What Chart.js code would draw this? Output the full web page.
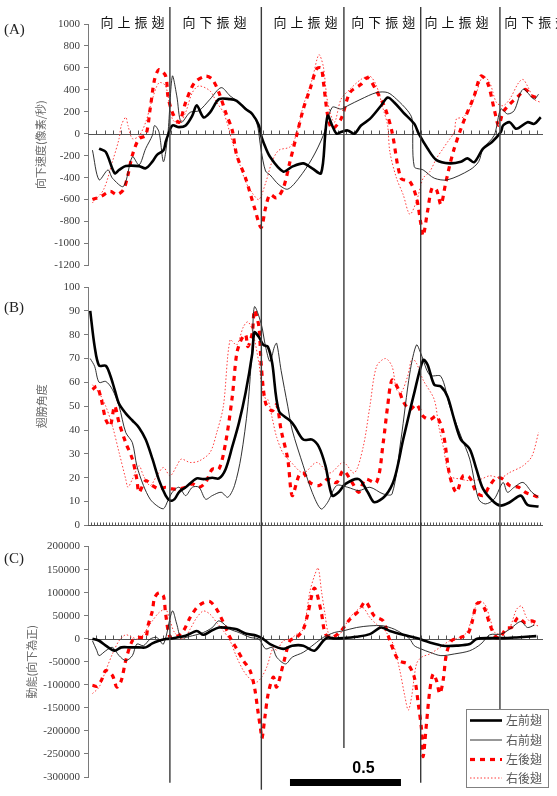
<!DOCTYPE html>
<html>
<head>
<meta charset="utf-8">
<script src="https://cdn.jsdelivr.net/npm/chart.js@4.4.0/dist/chart.umd.min.js"></script>
<style>
  html, body { margin: 0; padding: 0; background: #fff; }
  #page { position: relative; width: 557px; height: 796px; overflow: hidden; background: #fff; }
  #page canvas { position: absolute; left: 0; }
</style>
</head>
<body>
<div id="page">
  <canvas id="chartA" width="557" height="276" style="top:0px"></canvas>
  <canvas id="chartB" width="557" height="260" style="top:276px"></canvas>
  <canvas id="chartC" width="557" height="260" style="top:536px"></canvas>
</div>
<script>
// time in seconds, [t, value]
const seriesNames = ["左前翅", "右前翅", "左後翅", "右後翅"];
const phaseTimes = [0.369, 0.781, 1.153, 1.499, 1.856]; // stroke transitions
const phaseLabels = ["向上振翅", "向下振翅", "向上振翅", "向下振翅", "向上振翅", "向下振翅"];
const phaseLabelTimes = [0.2, 0.57, 0.98, 1.33, 1.66, 2.02];
const markerEndsC = [-312500, -327600, -237000, -312500, -155000]; // where the lines stop, in panel C units
const scaleBarStart = 0.91;
const scaleBarLength = 0.5;

// (A) 向下速度 (像素/秒)
const velLeftFore = [[0.05,-135],[0.08,-165],[0.12,-360],[0.14,-330],[0.17,-295],[0.23,-295],[0.26,-315],[0.29,-255],[0.31,-195],[0.34,-150],[0.35,-75],[0.36,-15],[0.38,75],[0.41,60],[0.44,75],[0.47,165],[0.49,260],[0.52,150],[0.55,195],[0.59,315],[0.64,315],[0.67,300],[0.71,225],[0.74,180],[0.77,75],[0.78,-15],[0.79,-75],[0.82,-210],[0.88,-345],[0.92,-300],[0.97,-270],[1.01,-315],[1.05,-360],[1.07,18],[1.08,165],[1.10,75],[1.12,0],[1.14,15],[1.17,30],[1.20,0],[1.23,75],[1.27,135],[1.32,255],[1.35,330],[1.38,285],[1.42,195],[1.47,90],[1.49,0],[1.53,-135],[1.57,-240],[1.63,-270],[1.68,-255],[1.71,-225],[1.74,-260],[1.78,-135],[1.82,-75],[1.86,15],[1.87,75],[1.90,105],[1.93,45],[1.98,105],[2.01,90],[2.04,150]];
const velRightFore = [[0.02,-150],[0.05,-420],[0.09,-330],[0.11,-405],[0.16,-480],[0.20,-210],[0.23,-285],[0.26,-135],[0.29,-15],[0.30,75],[0.32,15],[0.34,-255],[0.36,0],[0.38,525],[0.40,345],[0.42,105],[0.46,195],[0.50,210],[0.55,315],[0.60,420],[0.64,345],[0.68,285],[0.73,195],[0.76,105],[0.78,-150],[0.80,-340],[0.82,-375],[0.86,-465],[0.90,-505],[0.95,-405],[1.01,-225],[1.06,-15],[1.10,240],[1.14,225],[1.17,255],[1.23,315],[1.30,375],[1.35,375],[1.39,315],[1.44,210],[1.46,135],[1.47,-300],[1.51,-330],[1.56,-405],[1.62,-420],[1.72,-330],[1.76,-255],[1.78,-135],[1.83,-15],[1.86,225],[1.89,180],[1.92,210],[1.96,405],[2.01,315],[2.03,360]];
const velLeftHind = [[0.02,-600],[0.06,-570],[0.10,-525],[0.13,-555],[0.16,-510],[0.18,-375],[0.20,-195],[0.23,-45],[0.26,-15],[0.28,225],[0.30,495],[0.32,585],[0.35,525],[0.36,345],[0.38,195],[0.41,105],[0.44,285],[0.48,465],[0.53,525],[0.56,495],[0.59,375],[0.62,195],[0.65,30],[0.67,-195],[0.71,-405],[0.75,-675],[0.78,-855],[0.80,-675],[0.82,-555],[0.85,-585],[0.88,-495],[0.91,-255],[0.94,-15],[0.97,225],[1.00,405],[1.03,590],[1.05,600],[1.06,480],[1.08,165],[1.10,45],[1.14,135],[1.18,375],[1.23,450],[1.26,510],[1.30,390],[1.34,225],[1.37,15],[1.41,-405],[1.45,-435],[1.48,-585],[1.50,-825],[1.51,-930],[1.53,-705],[1.55,-495],[1.57,-510],[1.59,-645],[1.61,-465],[1.63,-285],[1.65,-135],[1.68,45],[1.70,150],[1.74,345],[1.77,525],[1.80,465],[1.83,225],[1.85,75],[1.87,195],[1.90,270],[1.94,345],[1.97,405],[2.00,345],[2.02,330]];
const velRightHind = [[0.02,-630],[0.07,-510],[0.11,-255],[0.14,-45],[0.15,75],[0.17,150],[0.18,75],[0.20,-45],[0.23,-20],[0.26,105],[0.29,315],[0.32,465],[0.35,435],[0.38,135],[0.41,90],[0.44,195],[0.47,375],[0.50,435],[0.55,390],[0.58,285],[0.61,195],[0.63,75],[0.65,-75],[0.68,-255],[0.71,-435],[0.74,-540],[0.77,-600],[0.80,-450],[0.83,-250],[0.86,-150],[0.91,-120],[0.94,0],[0.97,255],[1.01,495],[1.04,720],[1.06,615],[1.08,285],[1.11,105],[1.14,315],[1.18,405],[1.23,495],[1.27,525],[1.30,435],[1.33,225],[1.35,75],[1.36,-165],[1.39,-405],[1.42,-555],[1.45,-735],[1.48,-615],[1.51,-405],[1.54,-345],[1.57,-225],[1.60,-135],[1.62,-75],[1.65,15],[1.66,135],[1.69,150],[1.72,225],[1.75,375],[1.78,525],[1.81,465],[1.84,285],[1.87,255],[1.90,315],[1.94,465],[1.96,495],[1.98,435],[2.01,315],[2.04,285]];

// (B) 翅膀角度
const angLeftFore = [[0.01,90],[0.03,75],[0.05,67],[0.08,67],[0.10,63],[0.12,57],[0.14,51],[0.17,47],[0.20,44],[0.23,41],[0.26,36],[0.29,28],[0.32,19],[0.35,12.5],[0.37,10.4],[0.39,11],[0.41,14],[0.44,16],[0.49,19.7],[0.52,19.4],[0.56,20],[0.59,19.7],[0.62,23.6],[0.65,33],[0.68,43],[0.71,55.6],[0.74,72],[0.75,81],[0.77,79],[0.79,75.7],[0.81,75],[0.83,68],[0.86,48],[0.91,44],[0.93,41.7],[0.97,36],[1.01,36],[1.04,33],[1.07,25],[1.10,12.5],[1.13,14],[1.16,17.4],[1.22,19.4],[1.26,14],[1.29,9.7],[1.34,12.5],[1.38,19.4],[1.42,36],[1.47,55.6],[1.51,69.4],[1.53,67.4],[1.56,59],[1.59,58.3],[1.62,54],[1.65,44.4],[1.68,36],[1.72,32],[1.75,23.6],[1.78,15.3],[1.83,9.7],[1.86,8.3],[1.90,9.7],[1.95,12.5],[1.98,8.6],[2.03,7.9]];
const angRightFore = [[0.01,70],[0.03,66.7],[0.05,60],[0.08,60.4],[0.11,57],[0.14,50],[0.17,39],[0.20,34.7],[0.22,25],[0.25,16.7],[0.28,11],[0.31,8.3],[0.34,7],[0.36,10.4],[0.38,13.9],[0.41,16],[0.44,12.5],[0.47,16],[0.50,16],[0.53,11],[0.56,12.5],[0.60,13.9],[0.63,11.8],[0.66,16.7],[0.69,29],[0.72,50],[0.74,75],[0.75,91.7],[0.78,84.7],[0.80,75],[0.82,68.75],[0.84,75],[0.85,76.4],[0.87,65],[0.90,50],[0.92,40],[0.97,25],[1.01,13.9],[1.05,6.9],[1.08,9.7],[1.12,16.7],[1.17,16],[1.22,14.6],[1.27,16],[1.33,13.2],[1.37,13.2],[1.41,36],[1.45,63.9],[1.48,75.7],[1.50,72],[1.54,63],[1.59,62.5],[1.63,50],[1.68,37.5],[1.72,27.8],[1.76,11],[1.79,9],[1.83,11],[1.87,18],[1.89,13.9],[1.92,16],[1.96,18],[2.00,13.9],[2.03,11.8]];
const angLeftHind = [[0.02,57],[0.04,58.3],[0.06,52.8],[0.08,44.4],[0.10,41.7],[0.12,50],[0.14,43],[0.17,34.7],[0.20,27.8],[0.22,19.4],[0.23,13.9],[0.26,18.75],[0.29,16.7],[0.32,15.3],[0.35,16],[0.38,15.3],[0.41,15.3],[0.44,16],[0.47,17.4],[0.50,16],[0.53,18],[0.56,23.6],[0.59,23.6],[0.62,34.7],[0.65,54],[0.67,72],[0.69,77.8],[0.71,80],[0.72,75],[0.74,80.6],[0.75,90.3],[0.77,83.3],[0.78,68],[0.80,51.4],[0.83,48],[0.85,50.7],[0.87,40],[0.90,27.8],[0.92,12.5],[0.95,20.8],[0.97,22],[1.00,18],[1.04,16.7],[1.08,19.4],[1.12,18],[1.15,23],[1.19,18],[1.22,13.9],[1.25,19.4],[1.30,18],[1.33,34.7],[1.35,50],[1.37,61],[1.40,56.9],[1.42,52],[1.45,48.6],[1.48,50.7],[1.51,45.8],[1.54,44.4],[1.57,45.8],[1.60,38.9],[1.63,20.8],[1.66,13.9],[1.69,20.8],[1.72,20],[1.75,13.9],[1.78,12.5],[1.81,16.7],[1.84,20],[1.87,19.4],[1.90,16.7],[1.94,16],[1.97,13.9],[2.01,12.5],[2.03,11.8]];
const angRightHind = [[0.02,59],[0.05,55.6],[0.08,50],[0.11,41.7],[0.14,30.6],[0.17,19.4],[0.18,16],[0.20,19.4],[0.23,25],[0.25,20.8],[0.28,16.7],[0.31,20.8],[0.34,24.3],[0.37,20.8],[0.40,25],[0.42,27.8],[0.46,26.4],[0.50,27],[0.55,30.6],[0.58,38.9],[0.61,50],[0.64,77.8],[0.67,75.7],[0.70,83.3],[0.72,85.4],[0.74,82],[0.77,68],[0.79,54],[0.81,52.8],[0.83,45],[0.85,37],[0.88,30],[0.91,27],[0.97,22],[1.03,26.4],[1.09,22],[1.15,26.4],[1.20,22],[1.24,33],[1.27,50],[1.30,66.7],[1.34,70],[1.37,66.7],[1.39,57],[1.41,55.6],[1.44,62.5],[1.46,70],[1.48,68],[1.51,61],[1.56,52.8],[1.58,41.7],[1.60,33.3],[1.63,20.8],[1.68,19.4],[1.72,18.75],[1.77,19.4],[1.81,20.8],[1.86,20],[1.90,22.2],[1.96,25],[2.00,29],[2.03,39]];

// (C) 動能 (向下為正)
const keLeftFore = [[0.02,0],[0.05,-4300],[0.08,-15000],[0.12,-26000],[0.15,-18700],[0.19,-18700],[0.23,-18700],[0.26,-18700],[0.29,-10000],[0.32,-4300],[0.35,-700],[0.37,0],[0.40,2900],[0.44,6500],[0.49,17000],[0.52,8600],[0.55,15800],[0.59,24400],[0.64,23000],[0.67,20800],[0.71,11500],[0.76,6500],[0.79,-700],[0.82,-11500],[0.88,-22000],[0.92,-15000],[0.97,-15000],[1.02,-26000],[1.06,-4300],[1.08,2900],[1.11,700],[1.15,1400],[1.21,4300],[1.27,10000],[1.32,24400],[1.36,17000],[1.42,8600],[1.48,1400],[1.54,-7900],[1.60,-15000],[1.66,-15000],[1.72,-11500],[1.75,-700],[1.81,1400],[1.87,1400],[1.93,2900],[2.02,5700]];
const keRightFore = [[0.02,-4300],[0.04,-26000],[0.05,-36600],[0.08,-26000],[0.11,-18700],[0.14,-36600],[0.17,-47400],[0.20,-36600],[0.22,-11500],[0.25,-15000],[0.28,-700],[0.31,2900],[0.34,-11500],[0.38,60300],[0.40,31600],[0.42,2900],[0.47,6500],[0.52,13600],[0.56,24400],[0.59,38800],[0.64,20800],[0.68,13600],[0.73,2900],[0.77,-700],[0.80,-22000],[0.83,-18700],[0.85,-40000],[0.89,-54600],[0.92,-40000],[0.97,-29400],[1.02,-11500],[1.06,2900],[1.11,13600],[1.15,17200],[1.21,24400],[1.27,28000],[1.33,28000],[1.38,20800],[1.42,10000],[1.45,-700],[1.47,-15000],[1.50,-22000],[1.54,-29400],[1.59,-36600],[1.65,-33000],[1.72,-26000],[1.77,-11500],[1.81,8600],[1.86,10000],[1.90,20800],[1.95,37400],[1.98,24400],[2.01,29500]];
const keLeftHind = [[0.02,-101000],[0.04,-103000],[0.06,-90500],[0.08,-69000],[0.11,-79700],[0.13,-105000],[0.15,-90500],[0.17,-47400],[0.20,-4300],[0.23,2900],[0.26,2900],[0.27,28000],[0.29,60300],[0.30,89000],[0.32,99800],[0.34,92700],[0.35,53200],[0.37,2900],[0.40,4300],[0.43,17200],[0.46,46000],[0.49,67500],[0.52,78300],[0.55,80500],[0.58,64000],[0.61,35200],[0.64,2900],[0.67,-22000],[0.70,-47400],[0.73,-69000],[0.75,-105000],[0.765,-155000],[0.778,-198000],[0.784,-216000],[0.797,-170000],[0.812,-119000],[0.835,-83300],[0.85,-105000],[0.88,-54600],[0.91,-4300],[0.94,2900],[0.97,20800],[0.99,53200],[1.02,110000],[1.05,60300],[1.07,10000],[1.10,2900],[1.14,17200],[1.18,42400],[1.22,60300],[1.25,80500],[1.29,49600],[1.33,38800],[1.36,-4300],[1.40,-47400],[1.44,-54600],[1.47,-83300],[1.488,-141000],[1.503,-198000],[1.51,-255700],[1.525,-184000],[1.54,-112000],[1.555,-76200],[1.57,-90500],[1.585,-119000],[1.60,-90500],[1.615,-33000],[1.638,-4300],[1.68,2900],[1.71,10000],[1.728,31600],[1.75,74700],[1.766,78300],[1.788,64000],[1.81,31600],[1.833,6500],[1.855,1400],[1.885,23000],[1.908,24400],[1.938,46000],[1.968,35200],[1.998,38800],[2.02,35200]];
const keRightHind = [[0.02,-119000],[0.05,-105000],[0.08,-69000],[0.11,-33000],[0.14,-4300],[0.17,8600],[0.20,2900],[0.23,-700],[0.26,17200],[0.29,38800],[0.32,56800],[0.35,64000],[0.37,38800],[0.39,13600],[0.43,-700],[0.46,20800],[0.49,46000],[0.52,60300],[0.55,53200],[0.58,35200],[0.61,17200],[0.64,-4300],[0.67,-40000],[0.70,-69000],[0.73,-87000],[0.76,-94000],[0.782,-83300],[0.805,-61800],[0.835,-18700],[0.85,-25000],[0.88,-4300],[0.91,-700],[0.94,10000],[0.97,20800],[1.00,103000],[1.022,139000],[1.037,153700],[1.052,103000],[1.068,53200],[1.082,13600],[1.105,2900],[1.135,10000],[1.18,46000],[1.218,64000],[1.24,67500],[1.27,46000],[1.30,31600],[1.338,17200],[1.375,-11500],[1.405,-69000],[1.428,-126000],[1.443,-155000],[1.458,-126000],[1.48,-54600],[1.503,-40000],[1.54,-33000],[1.586,-18700],[1.63,-4300],[1.676,2900],[1.706,13600],[1.736,53200],[1.758,81900],[1.788,74700],[1.81,46000],[1.833,13600],[1.863,10000],[1.90,24400],[1.931,64000],[1.953,71100],[1.976,46000],[2.005,31600],[2.028,28000]];

const AXIS_COLOR = "#7a7a7a";
const TICK_FONT = { family: '"Liberation Serif", "Times New Roman", serif', size: 11 };
const CJK_FONT = '"Noto Sans CJK TC", "Noto Sans CJK SC", sans-serif';

const seriesStyles = [
    { borderColor: "#000000", borderWidth: 2.6, borderDash: [] },
    { borderColor: "#1a1a1a", borderWidth: 0.9, borderDash: [] },
    { borderColor: "#ff0000", borderWidth: 3.2, borderDash: [5, 5] },
    { borderColor: "#ff3b3b", borderWidth: 1, borderDash: [1.5, 2] }
];

function toDatasets(seriesList) {
    return seriesList.map((pts, i) => ({
        label: seriesNames[i],
        data: pts.map(p => ({ x: p[0], y: p[1] })),
        borderColor: seriesStyles[i].borderColor,
        borderWidth: seriesStyles[i].borderWidth,
        borderDash: seriesStyles[i].borderDash,
        borderCapStyle: "butt",
        pointRadius: 0,
        tension: 0.3,
        fill: false
    }));
}

// axis line at zero, stroke markers, labels, legend and scale bar
const wingPlugin = {
    id: "wingPlugin",
    beforeDatasetsDraw(chart, args, opts) {
        const ctx = chart.ctx, xs = chart.scales.x, ys = chart.scales.y, area = chart.chartArea;
        const y0 = Math.round(ys.getPixelForValue(0)) + 0.5;
        ctx.save();
        ctx.strokeStyle = "#555";
        ctx.lineWidth = 1;
        ctx.beginPath();
        ctx.moveTo(area.left, y0);
        ctx.lineTo(area.right, y0);
        for (let k = 1; k * opts.tickStep <= xs.max + 1e-9; k++) {
            const px = Math.round(xs.getPixelForValue(k * opts.tickStep)) + 0.5;
            ctx.moveTo(px, y0);
            ctx.lineTo(px, y0 - opts.tickLen);
        }
        ctx.stroke();
        ctx.restore();
    },
    afterDatasetsDraw(chart, args, opts) {
        const ctx = chart.ctx, xs = chart.scales.x, ys = chart.scales.y;
        ctx.save();

        // stroke transition lines
        ctx.strokeStyle = "#3a3a3a";
        ctx.lineWidth = 1.4;
        phaseTimes.forEach((t, i) => {
            const px = xs.getPixelForValue(t);
            const bottom = opts.markerEnds ? ys.getPixelForValue(opts.markerEnds[i]) : chart.height;
            ctx.beginPath();
            ctx.moveTo(px, opts.markerTop);
            ctx.lineTo(px, bottom);
            ctx.stroke();
        });

        // panel letter
        ctx.fillStyle = "#222";
        ctx.font = '15px "Liberation Serif", serif';
        ctx.textBaseline = "middle";
        ctx.textAlign = "left";
        ctx.fillText(opts.letter, 4, opts.letterY);

        if (opts.phaseLabels) {
            ctx.font = "13px " + CJK_FONT;
            ctx.textAlign = "center";
            ctx.fillStyle = "#111";
            phaseLabels.forEach((label, i) => {
                const cx = xs.getPixelForValue(phaseLabelTimes[i]);
                const chars = Array.from(label);
                const pitch = 17;
                chars.forEach((ch, j) => {
                    ctx.fillText(ch, cx + (j - (chars.length - 1) / 2) * pitch, 22.5);
                });
            });
        }

        if (opts.extras) {
            // scale bar
            const x0 = xs.getPixelForValue(scaleBarStart);
            const x1 = xs.getPixelForValue(scaleBarStart + scaleBarLength);
            ctx.fillStyle = "#000";
            ctx.fillRect(x0, 243, x1 - x0, 7);
            ctx.font = 'bold 16px "Liberation Sans", Arial, sans-serif';
            ctx.textAlign = "center";
            ctx.fillText(String(scaleBarLength), (x0 + x1) / 2 + 18, 233);

            // legend box
            const bx = 466.5, by = 173.5, bw = 82, bh = 78;
            ctx.fillStyle = "#fff";
            ctx.fillRect(bx, by, bw, bh);
            ctx.strokeStyle = "#808080";
            ctx.lineWidth = 1;
            ctx.setLineDash([]);
            ctx.strokeRect(bx, by, bw, bh);
            const rows = [184.5, 204, 223.5, 242];
            chart.data.datasets.forEach((ds, i) => {
                ctx.save();
                ctx.strokeStyle = ds.borderColor;
                ctx.lineWidth = ds.borderWidth;
                ctx.setLineDash(ds.borderDash);
                ctx.beginPath();
                ctx.moveTo(470, rows[i]);
                ctx.lineTo(502, rows[i]);
                ctx.stroke();
                ctx.restore();
                ctx.fillStyle = "#555";
                ctx.font = "12px " + CJK_FONT;
                ctx.textAlign = "left";
                ctx.fillText(ds.label, 506, rows[i]);
            });
        }
        ctx.restore();
    }
};

function makePanel(canvasId, seriesList, axis, plug) {
    const ctx = document.getElementById(canvasId).getContext("2d");
    return new Chart(ctx, {
        type: "line",
        data: { datasets: toDatasets(seriesList) },
        options: {
            responsive: false,
            animation: false,
            layout: { padding: { left: axis.padLeft, right: 14, top: axis.padTop, bottom: axis.padBottom } },
            plugins: {
                legend: { display: false },
                tooltip: { enabled: false },
                wingPlugin: plug
            },
            scales: {
                x: { type: "linear", min: 0, max: 2.05, display: false },
                y: {
                    min: axis.min,
                    max: axis.max,
                    ticks: {
                        stepSize: axis.step,
                        color: "#3c3c3c",
                        font: TICK_FONT,
                        padding: 4,
                        callback: v => String(v)
                    },
                    grid: { drawOnChartArea: false, tickLength: 4, color: AXIS_COLOR },
                    border: { color: AXIS_COLOR },
                    title: {
                        display: true,
                        text: axis.title,
                        color: "#6a6a6a",
                        font: { family: CJK_FONT, size: 11 },
                        padding: 0
                    },
                    afterFit(scale) { scale.width = 88 - axis.padLeft; }
                }
            }
        },
        plugins: [wingPlugin]
    });
}

makePanel("chartA", [velLeftFore, velRightFore, velLeftHind, velRightHind],
    { min: -1200, max: 1000, step: 200, title: "向下速度(像素/秒)", padLeft: 34, padTop: 24, padBottom: 8 },
    { tickStep: 0.0375, tickLen: 4, markerTop: 7, letter: "(A)", letterY: 30, phaseLabels: true });

makePanel("chartB", [angLeftFore, angRightFore, angLeftHind, angRightHind],
    { min: 0, max: 100, step: 10, title: "翅膀角度", padLeft: 35, padTop: 11, padBottom: 9 },
    { tickStep: 0.0135, tickLen: 3, markerTop: 0, letter: "(B)", letterY: 32 });

makePanel("chartC", [keLeftFore, keRightFore, keLeftHind, keRightHind],
    { min: -300000, max: 200000, step: 50000, title: "動能(向下為正)", padLeft: 25, padTop: 9, padBottom: 19 },
    { tickStep: 0.0375, tickLen: 4, markerTop: 0, markerEnds: markerEndsC, letter: "(C)", letterY: 23, extras: true });
</script>
</body>
</html>
